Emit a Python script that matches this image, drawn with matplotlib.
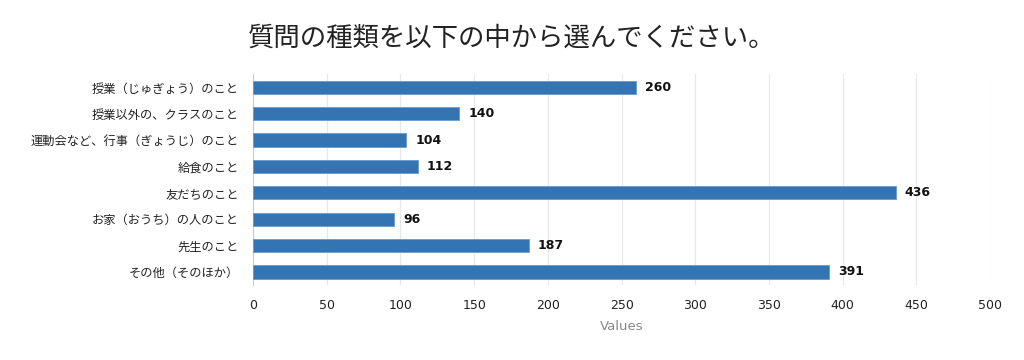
import matplotlib

matplotlib.use("Agg")
import matplotlib.pyplot as plt
import numpy as np

plt.rcParams["font.family"] = ["Noto Sans CJK JP", "DejaVu Sans"]

CATEGORIES = [
    "授業（じゅぎょう）のこと",
    "授業以外の、クラスのこと",
    "運動会など、行事（ぎょうじ）のこと",
    "給食のこと",
    "友だちのこと",
    "お家（おうち）の人のこと",
    "先生のこと",
    "その他（そのほか）",
]
VALUES = [260, 140, 104, 112, 436, 96, 187, 391]
XTICKS = [0, 50, 100, 150, 200, 250, 300, 350, 400, 450, 500]

TITLE = "質問の種類を以下の中から選んでください。"
BAR_COLOR = "#3574b2"
GRID = "#e8e8e8"

fig = plt.figure(figsize=(10.24, 3.6), dpi=100)
ax = fig.add_axes([0.247, 0.208, 0.72, 0.586])

y = np.arange(len(CATEGORIES))
ax.barh(y, VALUES, height=0.5, color=BAR_COLOR, edgecolor="#6a9bcc",
        linewidth=0.6, zorder=3)
for yi, v in zip(y, VALUES):
    ax.text(v + 6, yi, str(v), va="center", ha="left", fontsize=9,
            fontweight="bold", color="#111111", family="DejaVu Sans")

ax.set_ylim(len(CATEGORIES) - 0.5, -0.5)
ax.set_xlim(0, 500)
ax.set_yticks(y)
ax.set_yticklabels(CATEGORIES, fontsize=8.8, color="#222222")
ax.set_xticks(XTICKS)
ax.set_xticklabels([str(t) for t in XTICKS], fontsize=9, color="#222222",
                   family="DejaVu Sans")
ax.tick_params(axis="both", length=0)
ax.tick_params(axis="x", pad=10)
ax.tick_params(axis="y", pad=10)

ax.xaxis.grid(True, color=GRID, linewidth=0.9, zorder=0)
ax.set_axisbelow(True)
for s in ("top", "right", "bottom"):
    ax.spines[s].set_visible(False)
ax.spines["left"].set_color("#cccccc")

ax.set_xlabel("Values", fontsize=9.5, color="#888888", family="DejaVu Sans",
              labelpad=6)

fig.text(0.5, 0.895, TITLE, ha="center", va="center", fontsize=19,
         color="#222222")

fig.savefig("out.png", dpi=100, facecolor="white")
